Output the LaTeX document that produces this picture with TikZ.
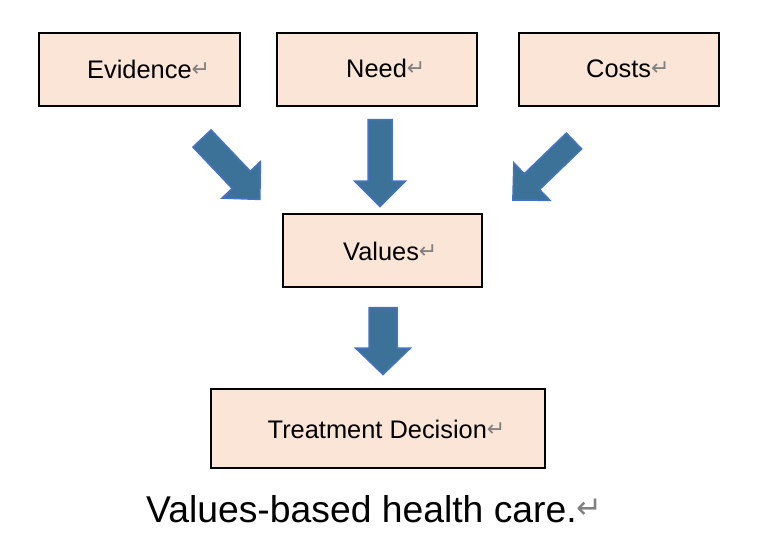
\documentclass[tikz,border=0pt]{standalone}
\usepackage{fontspec}
\setmainfont{Liberation Sans}
\newfontfamily\markfont{DejaVu Sans}
\definecolor{boxfill}{RGB}{251,229,214}
\definecolor{arrowfill}{RGB}{61,114,152}
\definecolor{arrowline}{RGB}{68,114,196}
\definecolor{markgray}{RGB}{128,128,128}
\newcommand{\pmark}[2]{\raisebox{#2}{\color{markgray}\markfont\fontsize{#1}{#1}\selectfont ↵}}
\newcommand{\blockarr}[6]{\draw[blockarrow, shift={#1}, rotate=#2] (0,-#4) -- ({#3-#6},-#4) -- ({#3-#6},-#5) -- (#3,0) -- ({#3-#6},#5) -- ({#3-#6},#4) -- (0,#4) -- cycle;}
\begin{document}
\begin{tikzpicture}[x=1pt,y=-1pt,
  box/.style={draw=black, line width=2pt, fill=boxfill, inner sep=0pt, rectangle},
  lbl/.style={inner sep=0pt, anchor=base west, font=\fontsize{25.4}{30}\selectfont},
  caption/.style={inner sep=0pt, anchor=base west, font=\fontsize{37.3}{44}\selectfont},
  blockarrow/.style={fill=arrowfill, draw=arrowline, line width=1.5pt, line join=miter}]
\useasboundingbox[fill=white] (0,0) rectangle (766,547);
% boxes
\node[box, minimum width=201pt, minimum height=73pt] (ev) at (139.5,69.5) {};
\node[box, minimum width=200pt, minimum height=73pt] (need) at (377,69.5) {};
\node[box, minimum width=200pt, minimum height=73pt] (cost) at (619,69.5) {};
\node[box, minimum width=199pt, minimum height=73pt] (val) at (382.5,250.5) {};
\node[box, minimum width=334pt, minimum height=79pt] (td) at (378,428.5) {};
% texts
\node[lbl] (evt) at (87,78) {Evidence\pmark{22}{2pt}};
\node[lbl] (needt) at (346,77) {Need\pmark{22}{2pt}};
\node[lbl] (costt) at (586,77) {Costs\pmark{22}{2pt}};
\node[lbl] (valt) at (343,260) {Values\pmark{22}{2pt}};
\node[lbl] (tdt) at (267.5,438) {Treatment Decision\pmark{22}{2pt}};
\node[caption] (cap) at (146,522) {Values-based health care.\pmark{31}{3.5pt}};
% block arrows
\coordinate (a1) at (202,138.5);
\coordinate (a2) at (380,119.5);
\coordinate (a3) at (574,141);
\coordinate (a4) at (383,307.5);
\blockarr{(a1)}{-46.5}{84}{12.5}{26.5}{27}
\blockarr{(a2)}{-90}{87}{12}{25.5}{25.5}
\blockarr{(a3)}{-136}{85}{11}{26}{26.5}
\blockarr{(a4)}{-90}{67}{14}{27.5}{26.5}
\end{tikzpicture}
\end{document}
